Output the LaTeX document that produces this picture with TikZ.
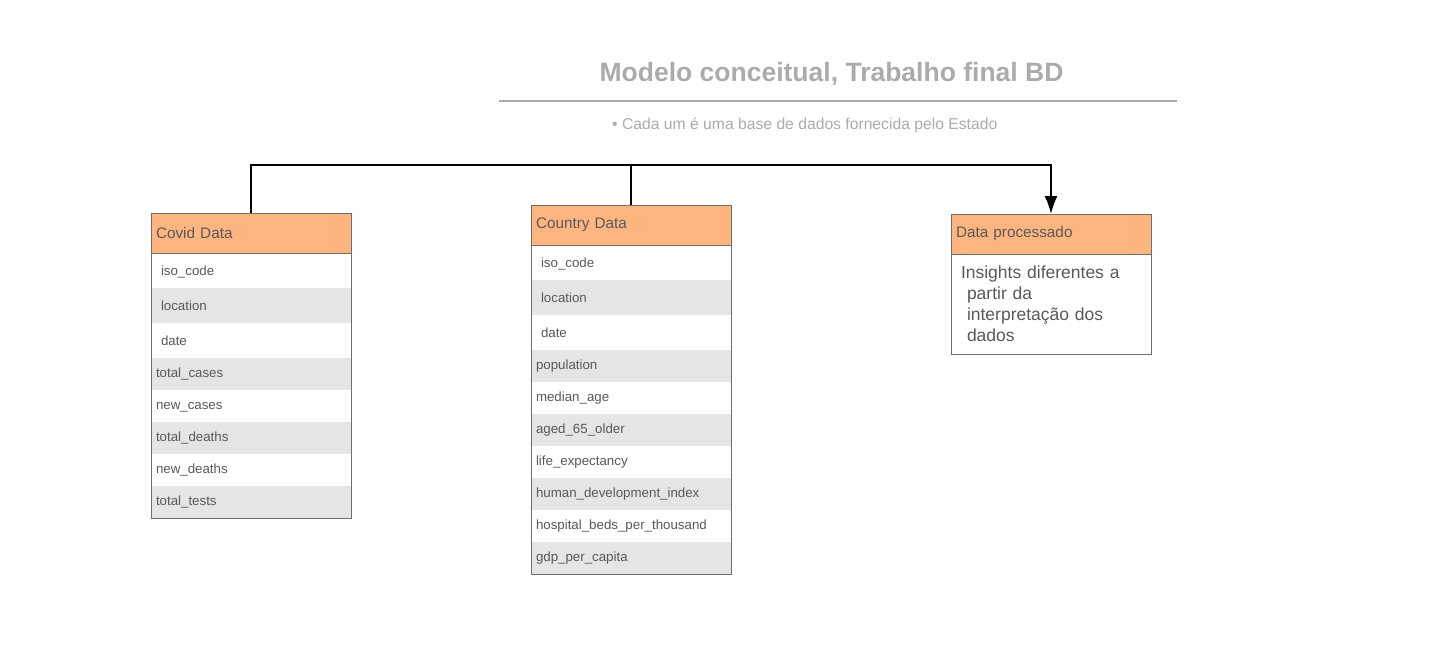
\documentclass[tikz,border=0pt]{standalone}
\usepackage{fontspec}
\setmainfont{Liberation Sans}
\usepackage{xcolor}
\usepackage{tikz}
\usetikzlibrary{positioning, arrows.meta}

\definecolor{hdrorange}{HTML}{FFB580}
\definecolor{rowgray}{HTML}{E5E5E5}
\definecolor{txtgray}{HTML}{595959}
\definecolor{ttlgray}{HTML}{ABABAB}
\definecolor{edgegray}{HTML}{6E6E6E}
\newcommand\indcell[1]{\hspace*{5pt}\raisebox{-2pt}{#1}}

\begin{document}
\begin{tikzpicture}[x=1pt, y=-1pt,
    hdr/.style={fill=hdrorange, text=txtgray, text width=190pt, inner xsep=5pt,
        inner ysep=0pt, outer sep=0pt, minimum height=40pt, align=left,
        font=\fontsize{15.3}{18}\selectfont},
    cell/.style={text=txtgray, text width=190pt, inner xsep=5pt, inner ysep=0pt,
        outer sep=0pt, align=left, font=\fontsize{13.3}{16}\selectfont},
    edge/.style={draw=edgegray, line width=1pt},
    conn/.style={line width=2pt, black}]
\useasboundingbox (0,0) rectangle (1437,665);

% title block
\node[text=ttlgray, font=\bfseries\fontsize{26.5}{30}\selectfont] (title) at (831.5,74) {Modelo conceitual, Trabalho final BD};
\coordinate (ruleL) at (499,101);
\coordinate (ruleR) at (1177,101);
\draw[ttlgray, line width=2pt] (ruleL) -- (ruleR);
\node[anchor=west, inner sep=0pt, text=ttlgray, font=\fontsize{15.7}{18}\selectfont] (sub) at (612,125.5)
    {\textbullet\ Cada um é uma base de dados fornecida pelo Estado};

% Covid Data
\node[hdr] (cv-0) at (251,233) {Covid Data};
\foreach \t/\h/\f [count=\i, remember=\i as \j (initially 0)] in {
    \indcell{iso\_code}/35/white, \indcell{location}/35/rowgray, \indcell{date}/35/white,
    total\_cases/32/rowgray, new\_cases/32/white, total\_deaths/32/rowgray,
    new\_deaths/32/white, total\_tests/32/rowgray}{
    \node[cell, fill=\f, minimum height=\h pt, below=0pt of cv-\j] (cv-\i) {\strut\t};
}
\draw[edge] (cv-0.north west) rectangle (cv-8.south east);
\draw[edge] (cv-0.south west) -- (cv-0.south east);

% Country Data
\node[hdr] (ct-0) at (631,225) {\strut Country Data};
\foreach \t/\h/\f [count=\i, remember=\i as \j (initially 0)] in {
    \indcell{iso\_code}/35/white, \indcell{location}/35/rowgray, \indcell{date}/35/white,
    population/32/rowgray, median\_age/32/white, aged\_65\_older/32/rowgray,
    life\_expectancy/32/white, human\_development\_index/32/rowgray,
    hospital\_beds\_per\_thousand/32/white, gdp\_per\_capita/32/rowgray}{
    \node[cell, fill=\f, minimum height=\h pt, below=0pt of ct-\j] (ct-\i) {\strut\t};
}
\draw[edge] (ct-0.north west) rectangle (ct-10.south east);
\draw[edge] (ct-0.south west) -- (ct-0.south east);

% Data processado
\node[hdr] (dp-0) at (1051,234) {\strut Data processado};
\node[cell, fill=white, minimum height=100pt, below=0pt of dp-0,
    font=\fontsize{17.5}{21}\selectfont] (dp-1)
    {\hspace*{5pt}Insights diferentes a\\ \hspace*{11pt}partir da\\
     \hspace*{11pt}interpretação dos\\ \hspace*{11pt}dados};
\draw[edge] (dp-0.north west) rectangle (dp-1.south east);
\draw[edge] (dp-0.south west) -- (dp-0.south east);

% connectors
\coordinate (bus) at (0,165);
\draw[conn, -{Latex[length=18pt, width=13pt]}] (cv-0.north) -- (cv-0.north |- bus) -| (dp-0.north);
\draw[conn] (ct-0.north) -- (ct-0.north |- bus);
\end{tikzpicture}
\end{document}
